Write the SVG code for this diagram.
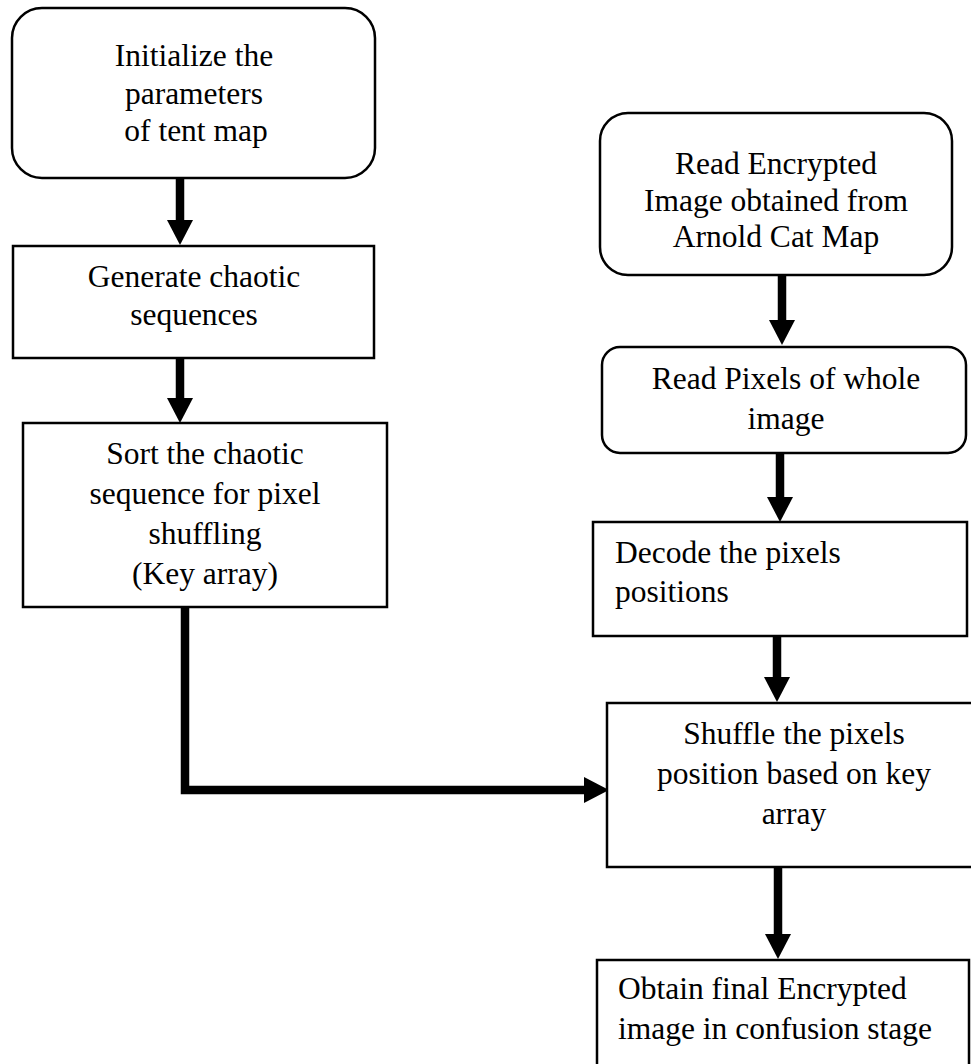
<svg xmlns="http://www.w3.org/2000/svg" width="971" height="1064" viewBox="0 0 971 1064">
<defs>
<style>
.box{fill:#fff;stroke:#000;stroke-width:2.5}
.t{font-family:"Liberation Serif","Times New Roman",serif;font-size:31.5px;fill:#000}
.c{text-anchor:middle}
.cn{fill:none;stroke:#000;stroke-width:8.5;marker-end:url(#ah)}
</style>
<marker id="ah" markerUnits="userSpaceOnUse" markerWidth="26" markerHeight="26" refX="0" refY="13" orient="auto" viewBox="0 0 26 26">
<path d="M0,0 L25,13 L0,26 z" fill="#000"/>
</marker>
</defs>
<rect width="971" height="1064" fill="#fff"/>
<g id="connectors">
<line class="cn" x1="180" y1="178" x2="180" y2="220"/>
<line class="cn" x1="180" y1="358" x2="180" y2="398"/>
<line class="cn" x1="782" y1="275" x2="782" y2="320"/>
<line class="cn" x1="780" y1="453" x2="780" y2="497"/>
<line class="cn" x1="777" y1="636" x2="777" y2="677"/>
<line class="cn" x1="778" y1="867" x2="778" y2="934"/>
<polyline class="cn" points="185,607 185,790 584,790"/>
</g>
<g id="n1">
<rect class="box" x="12" y="8" width="363" height="170" rx="30"/>
<text class="t c" x="194" y="66">Initialize the</text>
<text class="t c" x="194" y="104">parameters</text>
<text class="t c" x="196" y="141">of tent map</text>
</g>
<g id="n2">
<rect class="box" x="13" y="246" width="361" height="112"/>
<text class="t c" x="194" y="287">Generate chaotic</text>
<text class="t c" x="194" y="325">sequences</text>
</g>
<g id="n3">
<rect class="box" x="23" y="423" width="364" height="184"/>
<text class="t c" x="205" y="464">Sort the chaotic</text>
<text class="t c" x="205" y="504">sequence for pixel</text>
<text class="t c" x="205" y="544">shuffling</text>
<text class="t c" x="205" y="584">(Key array)</text>
</g>
<g id="n4">
<rect class="box" x="600" y="113" width="352" height="162" rx="28"/>
<text class="t c" x="776" y="174">Read Encrypted</text>
<text class="t c" x="776" y="211">Image obtained from</text>
<text class="t c" x="776" y="247">Arnold Cat Map</text>
</g>
<g id="n5">
<rect class="box" x="602" y="347" width="364" height="106" rx="18"/>
<text class="t c" x="786" y="389">Read Pixels of whole</text>
<text class="t c" x="786" y="429">image</text>
</g>
<g id="n6">
<rect class="box" x="593" y="522" width="374" height="114"/>
<text class="t" x="615" y="563">Decode the pixels</text>
<text class="t" x="615" y="602">positions</text>
</g>
<g id="n7">
<rect class="box" x="607" y="703" width="390" height="164"/>
<text class="t c" x="794" y="744">Shuffle the pixels</text>
<text class="t c" x="794" y="784">position based on key</text>
<text class="t c" x="794" y="824">array</text>
</g>
<g id="n8">
<rect class="box" x="597" y="960" width="372" height="120"/>
<text class="t" x="618" y="999">Obtain final Encrypted</text>
<text class="t" x="618" y="1039">image in confusion stage</text>
</g>
</svg>
